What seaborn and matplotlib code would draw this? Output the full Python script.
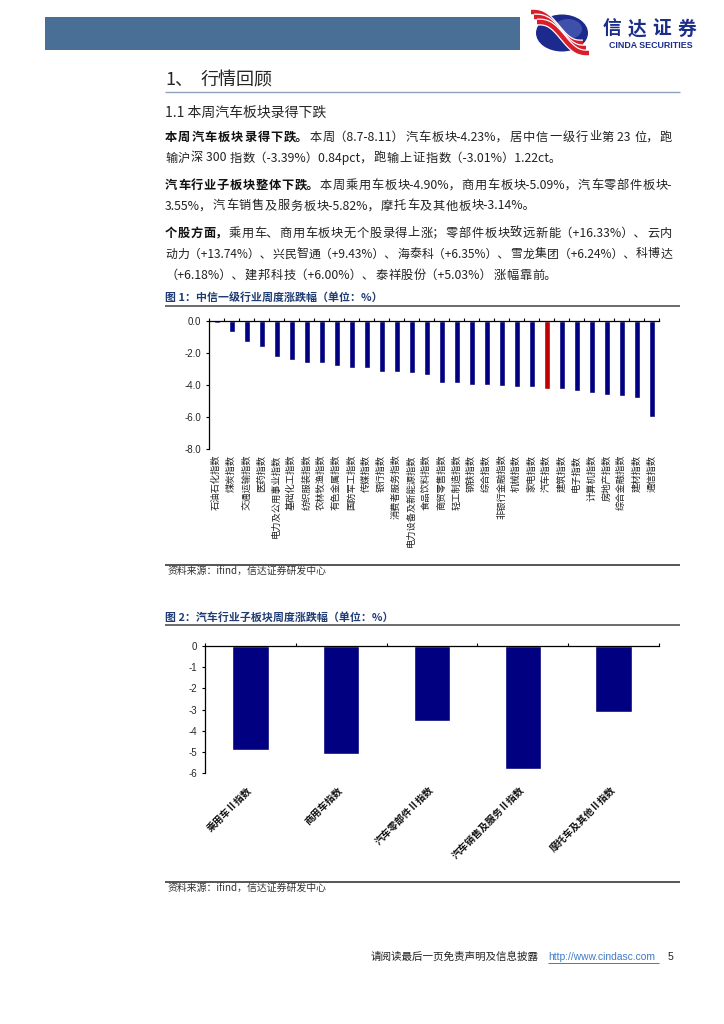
import numpy as np
import matplotlib
matplotlib.use('Agg')
import matplotlib.pyplot as plt
import seaborn as sns
from matplotlib.patches import Rectangle, Ellipse
from matplotlib.ticker import FixedLocator, FormatStrFormatter

# 图1：中信一级行业周度涨跌幅（%）
industries = ['石油石化指数', '煤炭指数', '交通运输指数', '医药指数', '电力及公用事业指数',
              '基础化工指数', '纺织服装指数', '农林牧渔指数', '有色金属指数', '国防军工指数',
              '传媒指数', '银行指数', '消费者服务指数', '电力设备及新能源指数', '食品饮料指数',
              '商贸零售指数', '轻工制造指数', '钢铁指数', '综合指数', '非银行金融指数',
              '机械指数', '家电指数', '汽车指数', '建筑指数', '电子指数',
              '计算机指数', '房地产指数', '综合金融指数', '建材指数', '通信指数']
industry_chg = [-0.14, -0.70, -1.30, -1.63, -2.27, -2.42, -2.64, -2.64, -2.79, -2.93,
                -2.95, -3.18, -3.18, -3.24, -3.35, -3.86, -3.88, -3.97, -4.03, -4.07,
                -4.11, -4.11, -4.23, -4.28, -4.40, -4.50, -4.61, -4.71, -4.83, -6.01]
ticks1 = [0, -2, -4, -6, -8]

# 图2：汽车行业子板块周度涨跌幅（%）
sub_sectors = ['乘用车Ⅱ指数', '商用车指数', '汽车零部件Ⅱ指数', '汽车销售及服务Ⅱ指数', '摩托车及其他Ⅱ指数']
sub_chg = [-4.90, -5.09, -3.55, -5.82, -3.14]
ticks2 = [0, -1, -2, -3, -4, -5, -6]

NAVY = '#000080'
RED = '#C00000'

sns.set_theme(style='ticks')
plt.rcParams['font.family'] = ['Noto Sans CJK SC', 'DejaVu Sans']
plt.rcParams['axes.unicode_minus'] = False

W, H = 724, 1024
fig = plt.figure(figsize=(W / 100, H / 100), dpi=100)
fig.patch.set_facecolor('white')

# page layer in pixel coordinates
page = fig.add_axes([0, 0, 1, 1])
page.set_xlim(0, W)
page.set_ylim(H, 0)
page.axis('off')
renderer = fig.canvas.get_renderer()


def put(x, y, s, size, **kw):
    kw.setdefault('va', 'center')
    kw.setdefault('ha', 'left')
    return page.text(x, y, s, fontsize=size, **kw)


def hline(y, x0=165, x1=680, color='#555555', lw=1.0):
    page.plot([x0, x1], [y, y], color=color, lw=lw, solid_capstyle='butt')


def text_w(s, size, weight):
    t = page.text(0, 0, s, fontsize=size, fontweight=weight)
    w = t.get_window_extent(renderer).width
    t.remove()
    return w


def is_han(ch):
    return '\u4e00' <= ch <= '\u9fff'


def para_line(y, segs, justify, size, x0=165, x1=672, track=0.7):
    # split into tokens that start at a Han character, then spread them
    toks = []
    for s, weight in segs:
        for ch in s:
            if not toks or is_han(ch) or toks[-1][1] != weight:
                toks.append([ch, weight])
            else:
                toks[-1][0] += ch

    def measure(sz):
        return [text_w(s + '中', sz, w) - text_w('中', sz, w) for s, w in toks]

    advs = measure(size)
    room = x1 - x0 - 0.3 * (len(toks) - 1)
    if sum(advs) > room:
        size = size * room / sum(advs)
        advs = measure(size)
    gap = (x1 - x0 - sum(advs)) / (len(toks) - 1) if justify else track
    x = x0
    for (s, weight), a in zip(toks, advs):
        put(x, y, s, size, fontweight=weight, color='#111111' if weight == 'bold' else '#222222')
        x += a + gap


# header
page.add_patch(Rectangle((45, 17), 475, 33, color='#4A6F97', lw=0))
page.add_patch(Ellipse((562, 33), 52, 37, color='#1B2A8C', lw=0))
page.add_patch(Ellipse((568, 29), 28, 20, color='#6A7FD0', lw=0, alpha=0.45))
t = np.linspace(0, 1, 40)
for off, c, lw in [(-5, 'white', 5.0), (-5, '#D81E2A', 3.2), (0, 'white', 5.0), (0, '#D81E2A', 3.2),
                   (5, 'white', 5.0), (5, '#D81E2A', 3.2)]:
    xs = 534 + 52 * t + off * 0.6
    ys = 17 + 31 * t + off - 5 * np.sin(2 * np.pi * t)
    page.plot(xs, ys, color=c, lw=lw, solid_capstyle='butt')
for i, ch in enumerate('信达证券'):
    put(612 + 25 * i, 29.5, ch, 13.5, ha='center', fontweight='heavy', color='#1B2E8A')
put(651, 45, 'CINDA SECURITIES', 6.4, ha='center', fontweight='bold', color='#1B2E8A',
    family=['Liberation Sans', 'DejaVu Sans'])

# section titles
put(165, 80, '1、', 13)
put(201, 80, '行情回顾', 13)
hline(92, color='#8EA4BE', lw=1.0)
put(165, 113, '1.1 本周汽车板块录得下跌', 10)

# paragraphs
TXT = 8.8
B, N = 'bold', 'normal'
paras = [
    (137, [('本周汽车板块录得下跌。', B), ('本周（8.7-8.11）汽车板块-4.23%，居中信一级行业第 23 位，跑', N)], True),
    (158, [('输沪深 300 指数（-3.39%）0.84pct，跑输上证指数（-3.01%）1.22ct。', N)], False),
    (185, [('汽车行业子板块整体下跌。', B), ('本周乘用车板块-4.90%，商用车板块-5.09%，汽车零部件板块-', N)], True),
    (206, [('3.55%，汽车销售及服务板块-5.82%，摩托车及其他板块-3.14%。', N)], False),
    (233, [('个股方面，', B), ('乘用车、商用车板块无个股录得上涨；零部件板块致远新能（+16.33%）、云内', N)], True),
    (254, [('动力（+13.74%）、兴民智通（+9.43%）、海泰科（+6.35%）、雪龙集团（+6.24%）、科博达', N)], True),
    (275, [('（+6.18%）、建邦科技（+6.00%）、泰祥股份（+5.03%）涨幅靠前。', N)], False),
]
for y, segs, just in paras:
    para_line(y, segs, just, TXT)

# chart titles / sources
TITLE_C = '#1F3B73'
put(165, 297, '图 1：中信一级行业周度涨跌幅（单位：%）', 7.9, fontweight='bold', color=TITLE_C)
hline(306, color='#444444', lw=1.1)
hline(565, color='#555555', lw=1.4)
put(168, 572, '资料来源：ifind，信达证券研发中心', 7.1, color='#333333', style='italic')

put(165, 617, '图 2：汽车行业子板块周度涨跌幅（单位：%）', 7.9, fontweight='bold', color=TITLE_C)
hline(625, color='#444444', lw=1.1)
hline(882, color='#555555', lw=1.4)
put(168, 889, '资料来源：ifind，信达证券研发中心', 7.1, color='#333333', style='italic')

# footer
put(371, 957, '请阅读最后一页免责声明及信息披露', 7.6, color='#222222')
put(548, 957, 'http://www.cindasc.com', 7.4, color='#3E7CC7',
    family=['Liberation Sans', 'DejaVu Sans'])
hline(963, 548, 659, color='#3E7CC7', lw=0.7)
put(668, 957, '5', 7.6, color='#222222', family=['Liberation Sans', 'DejaVu Sans'])


def style_axis(ax, n, yticks, fmt):
    ax.set_ylim(yticks[-1], 0)
    ax.set_xlim(-0.5, n - 0.5)
    ax.set_yticks(yticks)
    ax.yaxis.set_major_formatter(FormatStrFormatter(fmt))
    for s in ['bottom', 'right']:
        ax.spines[s].set_visible(False)
    for s in ['top', 'left']:
        ax.spines[s].set_linewidth(0.9)
        ax.spines[s].set_color('black')
    ax.xaxis.set_minor_locator(FixedLocator(np.arange(-0.5, n, 1)))
    ax.tick_params(axis='x', which='minor', bottom=False, top=True, length=2.5, width=0.8,
                   direction='out', color='black')
    ax.tick_params(axis='x', which='major', bottom=True, top=False, length=0)
    ax.tick_params(axis='y', which='major', left=True, length=2.5, width=0.8, direction='out',
                   color='black', labelsize=7, pad=3)
    for lab in ax.get_yticklabels():
        lab.set_family(['Liberation Sans', 'DejaVu Sans'])
    ax.set_xlabel('')
    ax.set_ylabel('')
    ax.set_facecolor('none')


# chart 1
ax1 = fig.add_axes([209 / W, (H - 449) / H, 450 / W, 128 / H])
colors1 = [RED if name == '汽车指数' else NAVY for name in industries]
sns.barplot(x=industries, y=industry_chg, hue=industries, palette=colors1, width=0.4,
            saturation=1, legend=False, ax=ax1)
style_axis(ax1, len(industries), ticks1, '%.1f')
ax1.set_xticks(range(len(industries)))
ax1.set_xticklabels(industries, rotation=90, fontsize=6.7, color='#222222')
ax1.tick_params(axis='x', which='major', pad=4)

# chart 2
ax2 = fig.add_axes([205 / W, (H - 773) / H, 454 / W, 127 / H])
sns.barplot(x=sub_sectors, y=sub_chg, color=NAVY, width=0.4, saturation=1, ax=ax2)
style_axis(ax2, len(sub_sectors), ticks2, '%d')
ax2.set_xticks(range(len(sub_sectors)))
ax2.set_xticklabels(sub_sectors, rotation=45, ha='right', va='center', rotation_mode='anchor',
                    fontsize=7, fontweight='bold', color='#111111')
ax2.tick_params(axis='x', which='major', pad=11)

fig.savefig('out.png', dpi=100, facecolor='white')
